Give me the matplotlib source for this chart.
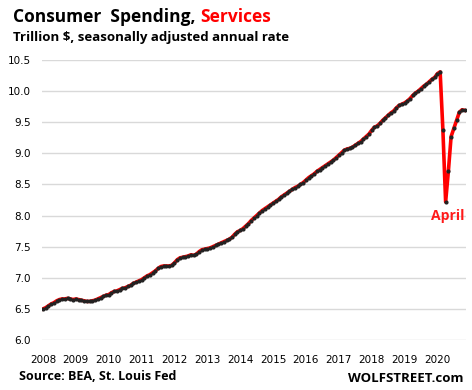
import numpy as np
import matplotlib
matplotlib.use("Agg")
import matplotlib.pyplot as plt

# Monthly PCE services, trillion $, Jan 2008 - Nov 2020
v2008 = [6.50, 6.52, 6.55, 6.58, 6.60, 6.63, 6.65, 6.66, 6.66, 6.67, 6.66, 6.65]
v2009 = [6.66, 6.65, 6.64, 6.63, 6.62, 6.62, 6.63, 6.64, 6.66, 6.68, 6.70, 6.72]
v2010 = [6.73, 6.76, 6.78, 6.79, 6.81, 6.83, 6.84, 6.86, 6.88, 6.91, 6.93, 6.95]
v2011 = [6.97, 7.00, 7.03, 7.05, 7.08, 7.11, 7.15, 7.18, 7.19, 7.19, 7.19, 7.20]
v2012 = [7.24, 7.29, 7.32, 7.33, 7.34, 7.35, 7.37, 7.36, 7.38, 7.42, 7.45, 7.46]
v2013 = [7.47, 7.48, 7.50, 7.52, 7.54, 7.56, 7.58, 7.60, 7.62, 7.65, 7.70, 7.74]
v2014 = [7.76, 7.79, 7.83, 7.87, 7.92, 7.96, 8.00, 8.04, 8.08, 8.11, 8.14, 8.17]
v2015 = [8.20, 8.23, 8.26, 8.30, 8.33, 8.36, 8.39, 8.42, 8.45, 8.47, 8.50, 8.53]
v2016 = [8.57, 8.61, 8.64, 8.67, 8.71, 8.74, 8.77, 8.80, 8.83, 8.86, 8.89, 8.93]
v2017 = [8.97, 9.01, 9.05, 9.07, 9.08, 9.10, 9.13, 9.16, 9.19, 9.23, 9.27, 9.31]
v2018 = [9.37, 9.42, 9.44, 9.48, 9.53, 9.57, 9.61, 9.65, 9.68, 9.73, 9.77, 9.79]
v2019 = [9.81, 9.84, 9.88, 9.93, 9.97, 10.00, 10.04, 10.08, 10.11, 10.15, 10.19, 10.22]
v2020 = [10.28, 10.31, 9.38, 8.22, 8.71, 9.27, 9.40, 9.53, 9.66, 9.70, 9.69]

year_labels = [str(y) for y in range(2008, 2021)]
y_ticks = [6.0, 6.5, 7.0, 7.5, 8.0, 8.5, 9.0, 9.5, 10.0, 10.5]

values = v2008 + v2009 + v2010 + v2011 + v2012 + v2013 + v2014 + v2015 + v2016 + v2017 + v2018 + v2019 + v2020
t = 2008 + np.arange(len(values)) / 12.0

fig = plt.figure(figsize=(4.72, 3.9), dpi=100)
ax = fig.add_axes([42 / 472, 1 - 340 / 390, 424 / 472, 280 / 390])

ax.plot(t, values, color="#ff0000", lw=2.6, zorder=3, solid_joinstyle="round")
ax.plot(t, values, ls="none", marker="o", ms=2.0, color="#222222", zorder=4)

ax.set_ylim(6.0, 10.5)
ax.set_xlim(2007.97, 2020.87)
ax.set_yticks(y_ticks)
ax.set_yticklabels([f"{v:.1f}" for v in y_ticks])
ax.set_xticks(range(2008, 2021))
ax.set_xticklabels(year_labels)
ax.grid(axis="y", color="#d9d9d9", lw=1.0)
ax.set_axisbelow(True)
for s in ax.spines.values():
    s.set_visible(False)
ax.tick_params(axis="both", length=0, labelsize=7.5, colors="#000000")
ax.tick_params(axis="y", pad=8)
ax.tick_params(axis="x", pad=11)

ax.text(2020.3, 7.99, "April", color="#ff1a1a", fontweight="bold", fontsize=10,
        ha="center", va="center", family="Open Sans")

fig.text(13 / 472, 1 - 17 / 390, "Consumer  Spending,", fontsize=12.5, fontweight="bold",
         family="Open Sans", va="center", ha="left")
fig.text(200 / 472, 1 - 17 / 390, "Services", fontsize=12.5, fontweight="bold",
         family="Open Sans", va="center", ha="left", color="#ff0000")
fig.text(13 / 472, 1 - 38 / 390, "Trillion $, seasonally adjusted annual rate", fontsize=9.5,
         fontweight="bold", family="Open Sans", va="center", ha="left")
fig.text(19 / 472, 1 - 377 / 390, "Source: BEA, St. Louis Fed", fontsize=9,
         fontweight="bold", family="Open Sans", va="center", ha="left")
fig.text(464 / 472, 1 - 379 / 390, "WOLFSTREET.com", fontsize=9.5,
         fontweight="bold", family="Open Sans", va="center", ha="right")

fig.savefig("out.png", dpi=100)
